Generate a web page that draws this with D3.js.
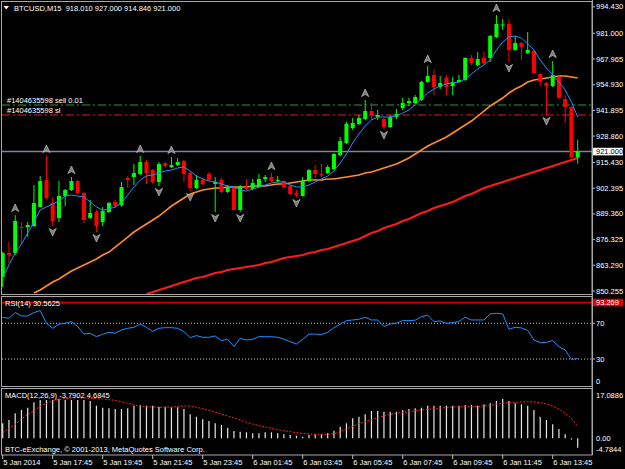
<!DOCTYPE html>
<html><head><meta charset="utf-8">
<script src="https://cdn.jsdelivr.net/npm/d3@7"></script>
<style>
html,body{margin:0;padding:0;background:#000;}
svg{display:block;}
text{font-family:"Liberation Sans",Arial,sans-serif;font-size:7.5px;fill:#fff;white-space:pre;}
</style></head><body>
<svg id="c" width="625" height="469"></svg>
<script>
const opens=[857.35,869.53,869.53,882.72,882.72,883.23,892.87,906.57,894.90,887.29,898.45,901.49,906.06,899.97,887.29,890.33,885.26,890.33,895.41,893.88,907.58,908.09,909.61,915.70,911.64,905.55,915.19,913.16,914.17,916.21,910.12,902.51,906.57,909.61,904.54,906.57,900.48,902.51,891.35,903.02,902.00,903.02,907.08,908.09,906.06,906.06,903.52,899.97,898.45,906.06,911.64,909.61,910.12,912.15,919.25,925.34,932.95,934.98,937.52,941.58,938.53,937.52,933.46,938.53,943.10,945.64,945.64,947.16,956.29,959.85,953.76,958.33,954.26,956.29,957.31,968.47,964.92,968.47,968.47,979.13,984.96,985.72,972.53,976.08,971.01,972.02,960.35,955.79,954.26,958.83,947.67,943.61,918.010];
const highs=[870.04,875.11,888.81,885.26,885.26,904.03,908.60,918.75,897.94,906.06,902.00,908.09,906.57,900.48,896.42,891.35,892.87,895.41,896.42,905.55,908.60,914.69,918.75,916.72,912.15,915.70,915.70,918.24,917.73,916.72,911.13,909.11,907.58,910.63,908.09,907.58,904.03,903.02,904.03,907.08,907.08,909.61,909.11,910.12,908.60,906.57,904.03,901.49,908.09,912.15,914.17,914.69,914.17,920.27,928.39,935.99,938.03,939.55,947.16,945.64,942.09,938.03,939.55,942.59,948.17,948.17,949.70,956.80,964.41,962.38,959.34,959.85,958.83,959.85,968.98,969.99,971.52,971.52,980.14,990.29,988.26,988.26,979.63,976.59,981.66,972.53,960.86,956.29,966.95,959.34,949.70,944.12,927.000];
const lows=[852.28,864.45,868.51,874.09,877.65,882.72,892.87,897.00,883.23,885.26,893.38,900.98,899.46,884.75,886.78,880.18,883.23,889.82,892.36,892.87,902.51,904.03,909.11,904.54,904.54,903.52,912.66,912.66,913.67,905.55,900.98,902.00,904.03,906.06,890.33,899.97,899.97,891.35,890.33,901.49,901.49,902.51,905.55,905.55,905.55,902.51,898.96,897.94,898.20,905.55,907.58,908.09,909.61,911.64,918.75,924.83,931.94,934.47,937.01,937.01,937.01,932.45,932.95,937.52,942.09,944.12,945.13,946.65,955.79,949.70,952.74,949.70,949.70,955.79,956.80,964.92,964.41,965.43,966.44,978.62,982.68,966.44,972.02,967.46,970.50,960.35,954.26,939.55,953.76,947.67,935.49,917.73,914.846];
const closes=[869.53,868.51,885.76,882.21,883.73,894.90,906.06,897.43,885.76,898.45,901.49,906.06,899.97,886.27,889.82,883.23,890.84,894.90,893.38,903.02,906.57,910.12,915.70,910.12,905.55,914.69,913.67,914.17,915.70,909.61,902.51,906.57,904.54,906.57,905.55,900.48,902.51,891.35,903.52,902.00,905.05,907.08,908.09,906.06,906.57,903.02,899.46,898.96,906.06,911.64,909.61,909.11,913.16,919.76,926.36,934.98,935.49,938.03,941.58,939.04,939.55,933.46,938.53,940.06,945.64,946.65,948.68,956.29,959.34,953.76,955.79,953.76,956.29,957.31,968.47,965.93,967.96,965.93,979.63,985.72,985.47,972.53,976.08,974.05,972.53,960.86,956.29,954.26,959.85,948.17,943.61,917.99,921.000];
const maFast=[856.84,863.44,869.53,874.09,879.68,885.26,891.35,892.87,894.39,895.91,898.45,898.96,898.45,897.94,895.41,892.87,891.35,891.85,892.87,894.90,898.96,903.02,906.57,908.60,909.11,910.12,911.13,911.64,912.66,913.16,911.13,908.60,907.08,906.06,905.55,904.54,903.52,903.02,901.49,900.98,902.00,903.02,904.03,905.05,905.55,905.55,904.03,903.02,903.02,904.03,905.55,907.08,908.60,911.13,915.19,919.76,925.34,929.91,933.97,937.01,938.53,938.53,938.53,939.04,940.56,942.09,944.62,947.67,950.71,952.74,954.26,955.28,955.79,956.29,957.82,960.35,962.89,964.92,967.46,972.53,976.59,979.13,979.63,978.62,975.57,972.53,967.46,963.40,959.85,956.29,952.23,946.15,938.53];
const maMid=[null,null,null,null,null,849.23,850.75,852.78,854.81,856.34,858.36,860.39,861.92,863.44,864.96,866.48,868.51,870.04,872.57,875.11,877.65,880.18,882.21,884.24,886.27,888.30,890.84,893.38,895.41,897.43,899.46,900.48,901.49,902.00,902.51,902.51,903.02,903.02,903.02,903.02,903.52,903.52,903.52,904.03,904.54,904.54,905.05,905.55,906.06,906.57,906.57,906.57,907.08,907.08,907.58,908.09,908.60,909.11,910.12,910.63,911.64,912.66,913.67,914.69,916.21,917.73,919.76,921.79,923.82,925.34,926.86,928.39,930.41,932.45,934.47,936.50,939.04,941.58,944.12,946.15,948.17,950.71,952.74,954.26,956.29,957.31,957.82,958.33,958.83,959.34,959.34,958.83,958.33];
const maSlow=[null,null,null,null,null,null,null,null,null,null,null,null,null,null,null,null,null,null,null,null,null,null,null,848.72,849.74,850.75,851.77,852.78,853.80,854.81,855.83,856.84,857.35,858.36,859.38,859.89,860.90,861.41,861.92,862.42,862.93,863.44,864.45,864.96,865.98,866.99,867.50,868.01,868.51,869.53,870.04,871.05,871.56,872.57,873.59,874.60,875.62,876.63,878.15,879.68,880.69,882.21,883.23,884.24,885.76,886.78,888.30,889.82,890.84,892.36,893.38,894.39,895.41,896.93,898.45,899.46,900.98,902.51,903.52,904.54,905.55,906.57,907.58,908.60,909.61,910.63,911.64,912.66,913.67,914.69,915.70,916.72,917.73];
const rsi=[76.7,75.6,82.0,78.2,78.2,82.0,84.2,70.0,64.4,68.9,70.0,71.9,66.3,58.0,58.8,55.0,57.7,59.9,58.8,62.5,64.4,65.5,69.2,65.5,61.0,64.4,65.1,65.1,64.4,60.7,53.9,56.2,54.3,54.3,55.8,50.6,52.1,43.8,53.2,51.3,52.1,55.0,55.0,55.0,54.3,52.1,49.4,46.8,52.1,57.7,58.0,57.3,59.9,65.1,68.9,73.0,73.7,74.5,76.7,73.7,73.7,66.3,69.2,70.0,73.0,73.0,73.4,77.5,79.0,71.9,72.6,70.0,70.7,71.9,76.7,73.7,73.7,73.7,80.5,81.2,80.5,63.3,65.5,64.8,62.1,51.3,48.3,48.7,50.6,43.8,40.1,29.6,30.5625];
const macdHist=[5.99,7.32,9.99,11.32,12.25,14.39,15.32,15.32,15.32,15.72,15.32,15.32,15.32,15.32,14.92,13.05,12.25,11.99,11.72,11.72,11.99,13.05,13.32,13.05,13.05,12.65,12.65,12.39,12.39,11.72,9.59,8.65,7.59,6.92,5.99,5.32,4.25,2.92,2.65,2.39,1.99,1.99,2.39,2.39,1.99,1.59,1.32,1.05,0.65,1.32,1.72,1.72,1.99,3.05,4.65,5.99,7.99,8.65,9.59,10.92,10.92,10.65,10.65,10.65,11.32,11.72,11.99,12.25,13.05,13.05,13.05,13.05,13.05,13.05,13.32,13.32,13.05,13.59,13.99,14.92,15.72,14.92,13.99,13.59,13.05,11.32,8.65,7.32,5.59,3.72,1.59,-0.50,-3.7902];
const macdSignal=[2.25,3.99,5.59,7.72,9.59,10.92,12.79,13.99,14.92,15.59,15.85,16.12,16.25,16.12,15.99,15.85,15.72,15.45,15.19,14.65,13.99,13.32,12.92,12.65,12.52,12.39,12.39,12.52,12.65,12.92,12.92,12.39,11.85,11.19,10.52,9.72,8.92,8.12,7.32,6.39,5.72,5.05,4.52,3.99,3.45,3.05,2.65,2.25,1.99,1.72,1.59,1.59,1.59,1.85,2.65,3.72,4.79,5.99,6.65,7.45,8.25,8.92,9.59,9.99,10.39,10.65,11.05,11.32,11.59,11.85,12.12,12.25,12.52,12.65,12.65,12.65,12.65,12.92,13.19,13.72,13.99,14.25,14.39,14.52,14.65,14.52,14.25,13.72,12.92,11.72,9.99,7.99,4.6845];
const upFractals=[2,7,11,22,27,43,58,68,79,88];
const downFractals=[8,15,25,30,34,38,47,61,81,87];
const priceTicks=[994.430,981.000,967.965,954.930,941.895,928.860,915.430,902.395,889.360,876.325,863.290,850.255];
const rsiTicks=[70,30];
const timeTickIdx=[0,8,16,24,32,40,48,56,64,72,80,88];
const timeLabels=["5 Jan 2014","5 Jan 17:45","5 Jan 19:45","5 Jan 21:45","5 Jan 23:45","6 Jan 01:45","6 Jan 03:45","6 Jan 05:45","6 Jan 07:45","6 Jan 09:45","6 Jan 11:45","6 Jan 13:45"];
const bidPrice=921.000, orderPrice=944.62, slPrice=939.55, rsiMark=93.269;
const macdMax=17.0886, macdMin=-4.7844;
const header="BTCUSD,M15  918.010 927.000 914.846 921.000";

const svg=d3.select("#c");
svg.append("rect").attr("width",625).attr("height",469).attr("fill","#000");
const n=closes.length;
const x=d3.scaleLinear().domain([0,n-1]).range([2.7,577.7]);
const yP=d3.scaleLinear().domain([850.255,997.9]).range([291,0]);
const yR=d3.scaleLinear().domain([0,100]).range([385.8,296.5]);
const yM=d3.scaleLinear().domain([0,macdMax]).range([438.3,438.3-macdMax*2.5]);
const AX=592;

const defs=svg.append("defs");
defs.append("clipPath").attr("id","cm").append("rect").attr("x",2).attr("y",2).attr("width",AX-2).attr("height",292);
defs.append("clipPath").attr("id","cr").append("rect").attr("x",2).attr("y",297).attr("width",AX-2).attr("height",89);
defs.append("clipPath").attr("id","cd").append("rect").attr("x",2).attr("y",389).attr("width",AX-2).attr("height",66);

// ---------- main panel ----------
const gm=svg.append("g").attr("clip-path","url(#cm)");
gm.append("line").attr("x1",2).attr("x2",AX).attr("y1",yP(bidPrice)).attr("y2",yP(bidPrice)).attr("stroke","#778899").attr("stroke-width",1.6);
gm.append("line").attr("x1",2).attr("x2",AX).attr("y1",yP(orderPrice)).attr("y2",yP(orderPrice)).attr("stroke","#2e9a2e").attr("stroke-dasharray","8,3,2,3");
gm.append("line").attr("x1",2).attr("x2",AX).attr("y1",yP(slPrice)).attr("y2",yP(slPrice)).attr("stroke","#e01e1e").attr("stroke-dasharray","8,3,2,3");

const line=(arr,ys)=>d3.line().defined(d=>d!=null).x((d,i)=>x(i)).y(d=>ys(d))(arr);
gm.append("path").attr("d",line(maSlow,yP)).attr("fill","none").attr("stroke","#ff1a1a").attr("stroke-width",2);
gm.append("path").attr("d",line(maMid,yP)).attr("fill","none").attr("stroke","#ff8c28").attr("stroke-width",1.6);

const cg=gm.append("g");
d3.range(n).forEach(i=>{
  const up=closes[i]>=opens[i];
  const col=up?"#00ff00":"#ff0000";
  cg.append("line").attr("x1",x(i)).attr("x2",x(i)).attr("y1",yP(highs[i])).attr("y2",yP(lows[i])).attr("stroke",col).attr("stroke-width",1);
  const top=yP(Math.max(opens[i],closes[i])), bot=yP(Math.min(opens[i],closes[i]));
  cg.append("rect").attr("x",x(i)-2).attr("width",4).attr("y",top).attr("height",Math.max(1,bot-top)).attr("fill",col);
});
gm.append("path").attr("d",line(maFast,yP)).attr("fill","none").attr("stroke","#1e8fff").attr("stroke-width",1);

const fg=gm.append("g");
upFractals.forEach(i=>{
  fg.append("path").attr("transform",`translate(${x(i)},${yP(highs[i])-7})`)
   .attr("d","M0,-4 L3.6,3.6 L0,1.4 L-3.6,3.6 Z").attr("fill","#7a7a7a").attr("stroke","#d0d0d0").attr("stroke-width",0.6);
});
downFractals.forEach(i=>{
  fg.append("path").attr("transform",`translate(${x(i)},${yP(lows[i])+6})`)
   .attr("d","M0,4 L3.6,-3.6 L0,-1.4 L-3.6,-3.6 Z").attr("fill","#7a7a7a").attr("stroke","#d0d0d0").attr("stroke-width",0.6);
});

svg.append("path").attr("d","M3.5,6 L9,6 L6.25,9.5 Z").attr("fill","#fff");
svg.append("text").attr("x",14).attr("y",8).attr("dominant-baseline","central").text(header);
svg.append("text").attr("x",7).attr("y",yP(orderPrice)-5).attr("dominant-baseline","central").text("#1404635598 sell 0.01");
svg.append("text").attr("x",7).attr("y",yP(slPrice)-5).attr("dominant-baseline","central").text("#1404635598 sl");

// price axis
const pa=svg.append("g");
priceTicks.forEach(v=>{
  pa.append("line").attr("x1",AX).attr("x2",AX+3).attr("y1",yP(v)).attr("y2",yP(v)).attr("stroke","#c0c0c0");
  pa.append("text").attr("x",596).attr("y",yP(v)).attr("dominant-baseline","central").text(d3.format(".3f")(v));
});
pa.append("rect").attr("x",593).attr("y",yP(bidPrice)-3.8).attr("width",30).attr("height",7.6).attr("fill","#fff");
pa.append("text").attr("x",596).attr("y",yP(bidPrice)).attr("dominant-baseline","central").style("fill","#000").text(d3.format(".3f")(bidPrice));

// ---------- RSI panel ----------
const gr=svg.append("g").attr("clip-path","url(#cr)");
gr.append("line").attr("x1",2).attr("x2",AX).attr("y1",yR(rsiMark)).attr("y2",yR(rsiMark)).attr("stroke","#d00000").attr("stroke-width",1.6);
rsiTicks.forEach(v=>gr.append("line").attr("x1",2).attr("x2",AX).attr("y1",yR(v)).attr("y2",yR(v)).attr("stroke","#c8c8c8").attr("stroke-dasharray","1,2"));
gr.append("path").attr("d",line(rsi,yR)).attr("fill","none").attr("stroke","#1e8fff").attr("stroke-width",1);
svg.append("text").attr("x",5).attr("y",303).attr("dominant-baseline","central").text("RSI(14) "+rsi[n-1]);
rsiTicks.forEach(v=>{
  svg.append("line").attr("x1",AX).attr("x2",AX+3).attr("y1",yR(v)).attr("y2",yR(v)).attr("stroke","#c0c0c0");
  svg.append("text").attr("x",596).attr("y",yR(v)).attr("dominant-baseline","central").text(v);
});
svg.append("text").attr("x",596).attr("y",381).attr("dominant-baseline","central").text("0");
svg.append("rect").attr("x",593).attr("y",yR(rsiMark)-3.8).attr("width",30).attr("height",7.6).attr("fill","#e00000");
svg.append("text").attr("x",596).attr("y",yR(rsiMark)).attr("dominant-baseline","central").text(d3.format(".3f")(rsiMark));

// ---------- MACD panel ----------
const gd=svg.append("g").attr("clip-path","url(#cd)");
macdHist.forEach((v,i)=>{
  gd.append("line").attr("x1",x(i)).attr("x2",x(i)).attr("y1",yM(0)).attr("y2",yM(v)).attr("stroke","#e8e8e8").attr("stroke-width",1.2);
});
gd.append("path").attr("d",line(macdSignal,yM)).attr("fill","none").attr("stroke","#ff2020").attr("stroke-width",1).attr("stroke-dasharray","2,1.5");
svg.append("text").attr("x",5).attr("y",395).attr("dominant-baseline","central").text("MACD(12,26,9) "+macdHist[n-1]+" "+macdSignal[n-1]);
svg.append("text").attr("x",5).attr("y",449).attr("dominant-baseline","central").text("BTC-eExchange, © 2001-2013, MetaQuotes Software Corp.");
svg.append("text").attr("x",596).attr("y",395).attr("dominant-baseline","central").text(macdMax);
svg.append("text").attr("x",596).attr("y",yM(0)).attr("dominant-baseline","central").text("0.00");
svg.append("text").attr("x",596).attr("y",449).attr("dominant-baseline","central").text(macdMin);

// ---------- frames ----------
const fc="#a8a8a8";
[[1.5,1.5,AX-1.5,293],[1.5,296.5,AX-1.5,90],[1.5,388.5,AX-1.5,66.5]].forEach(r=>{
  svg.append("rect").attr("x",r[0]).attr("y",r[1]).attr("width",r[2]).attr("height",r[3]).attr("fill","none").attr("stroke",fc);
});
svg.append("line").attr("x1",AX+0.5).attr("x2",AX+0.5).attr("y1",0).attr("y2",455).attr("stroke",fc);

// time axis
timeTickIdx.forEach((ti,k)=>{
  svg.append("line").attr("x1",x(ti)).attr("x2",x(ti)).attr("y1",455).attr("y2",459).attr("stroke","#c0c0c0");
  svg.append("text").attr("x",x(ti)+0.5).attr("y",462).attr("dominant-baseline","central").text(timeLabels[k]);
});
</script>
</body></html>
